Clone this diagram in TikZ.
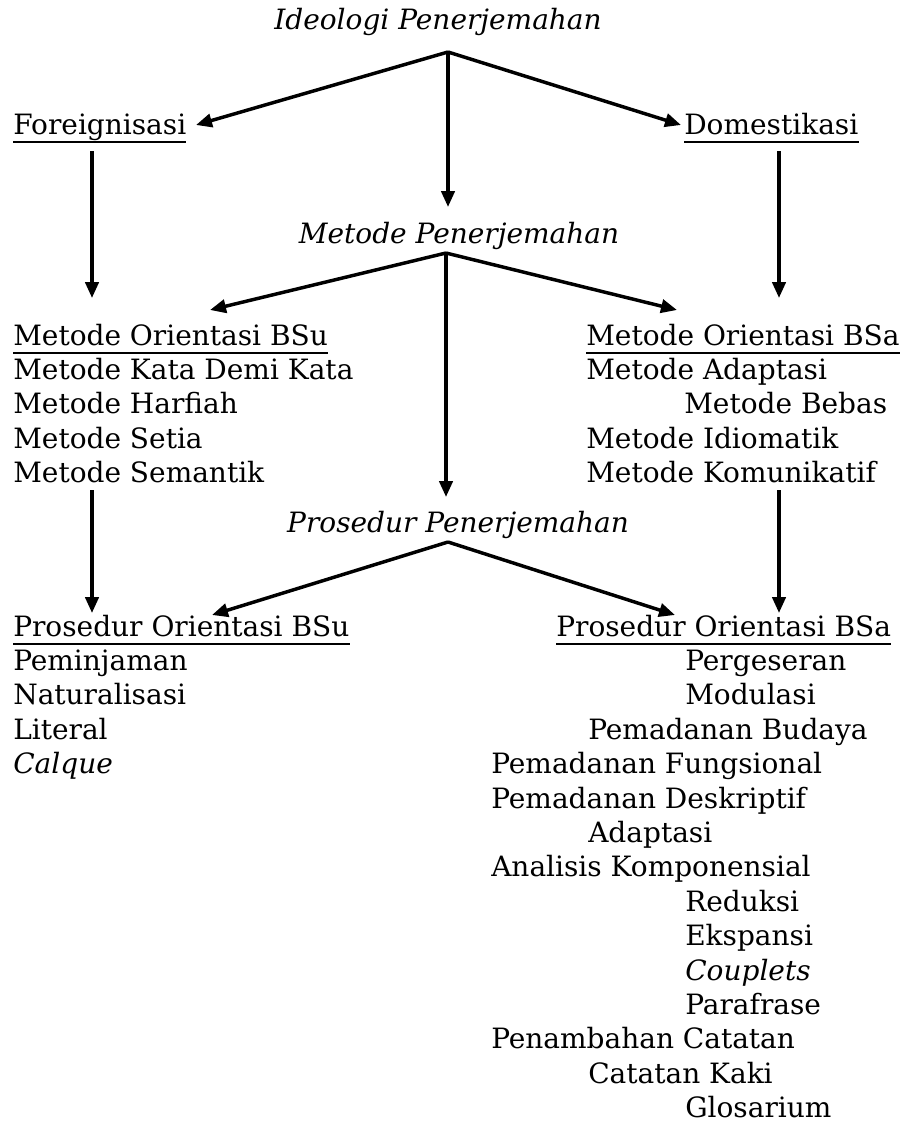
\documentclass[tikz,border=0pt]{standalone}
\usepackage{fontspec}
\setmainfont{DejaVu Serif}
\usetikzlibrary{arrows.meta}

\begin{document}
\begin{tikzpicture}[x=0.75pt, y=-0.75pt, >={Triangle[length=12pt, width=10pt]},
    txt/.style={anchor=base west, inner sep=0pt, font=\fontsize{21}{25}\selectfont},
    head/.style={anchor=base, inner sep=0pt, font=\fontsize{21}{25}\selectfont\itshape},
    arr/.style={->, line width=2.6pt},
    ul/.style={line width=1.6pt}]
    \useasboundingbox (0,0) rectangle (902,1124);
    \def\dy{34.4}
    % tiga judul miring
    \node[head] (ideo) at (438,30) {Ideologi Penerjemahan};
    \node[head] (meto) at (459,243) {Metode Penerjemahan};
    \node[head] (pros) at (458,532) {Prosedur Penerjemahan};
    % ideologi
    \node[txt] (fore) at (13,134) {Foreignisasi};
    \node[txt] (dome) at (684,134) {Domestikasi};
    % metode
    \node[txt] (mbsu) at (13,345) {Metode Orientasi BSu};
    \node[txt] (mbsa) at (586,345) {Metode Orientasi BSa};
    \foreach \t [count=\k] in {Metode Kata Demi Kata, Metode Harfiah, Metode Setia, Metode Semantik}
        \node[txt] (mbsu-\k) at (13,345+\k*\dy) {\t};
    \foreach \t/\x [count=\k] in {Metode Adaptasi/586, Metode Bebas/684, Metode Idiomatik/586, Metode Komunikatif/586}
        \node[txt] (mbsa-\k) at (\x,345+\k*\dy) {\t};
    % prosedur
    \node[txt] (pbsu) at (13,636) {Prosedur Orientasi BSu};
    \node[txt] (pbsa) at (556,636) {Prosedur Orientasi BSa};
    \foreach \t [count=\k] in {Peminjaman, Naturalisasi, Literal, \textit{Calque}}
        \node[txt] (pbsu-\k) at (13,636+\k*\dy) {\t};
    \foreach \t/\x [count=\k] in {Pergeseran/685, Modulasi/685, Pemadanan Budaya/588,
        Pemadanan Fungsional/491, Pemadanan Deskriptif/491, Adaptasi/588,
        Analisis Komponensial/491, Reduksi/685, Ekspansi/685, \textit{Couplets}/685,
        Parafrase/685, Penambahan Catatan/491, Catatan Kaki/588, Glosarium/685}
        \node[txt] (pbsa-\k) at (\x,636+\k*\dy) {\t};
    % garis bawah
    \foreach \n in {fore, dome, mbsu, mbsa, pbsu, pbsa}
        \draw[ul] ([yshift=-6pt]\n.base west) -- ([yshift=-6pt]\n.base east);
    % titik cabang dan ujung panah
    \coordinate (ideo-fork) at (448,52);
    \coordinate (meto-fork) at (446,253);
    \coordinate (pros-fork) at (448,542);
    \coordinate (fore-in) at (196,125);
    \coordinate (dome-in) at (681,125);
    \coordinate (meto-in) at (448,207);
    \coordinate (mbsu-in) at (210,310);
    \coordinate (mbsa-in) at (677,310);
    \coordinate (pros-in) at (446,497);
    \coordinate (pbsu-in) at (212,615);
    \coordinate (pbsa-in) at (675,615);
    \draw[arr] (ideo-fork) -- (fore-in);
    \draw[arr] (ideo-fork) -- (dome-in);
    \draw[arr] (ideo-fork) -- (meto-in);
    \draw[arr] (meto-fork) -- (mbsu-in);
    \draw[arr] (meto-fork) -- (mbsa-in);
    \draw[arr] (meto-fork) -- (pros-in);
    \draw[arr] (pros-fork) -- (pbsu-in);
    \draw[arr] (pros-fork) -- (pbsa-in);
    % panah tegak di kiri dan kanan
    \draw[arr] (92,151) coordinate (fore-out) -- (92,298) coordinate (mbsu-top);
    \draw[arr] (779,151) coordinate (dome-out) -- (779,298) coordinate (mbsa-top);
    \draw[arr] (92,490) coordinate (mbsu-out) -- (92,613) coordinate (pbsu-top);
    \draw[arr] (779,490) coordinate (mbsa-out) -- (779,613) coordinate (pbsa-top);
\end{tikzpicture}
\end{document}
